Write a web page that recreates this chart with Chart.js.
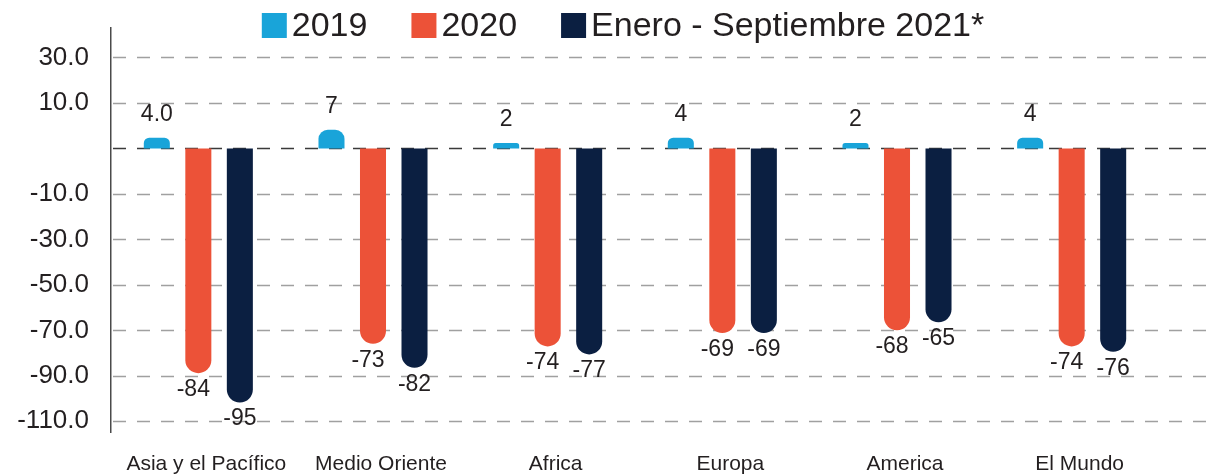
<!DOCTYPE html>
<html>
<head>
<meta charset="utf-8">
<script src="https://cdn.jsdelivr.net/npm/chart.js@4.4.0/dist/chart.umd.min.js"></script>
<style>
  html, body { margin: 0; padding: 0; background: #fff; overflow: hidden; }
  #wrap { position: relative; width: 1209px; height: 476px; }
</style>
</head>
<body>
<div id="wrap"><canvas id="chart"></canvas></div>
<script>
// Datos
const categories = ['Asia y el Pacífico', 'Medio Oriente', 'Africa', 'Europa', 'America', 'El Mundo'];
const seriesNames = ['2019', '2020', 'Enero - Septiembre 2021*'];
const values2019 = [4, 7, 2, 4, 2, 4];
const values2020 = [-84, -73, -74, -69, -68, -74];
const values2021 = [-95, -82, -77, -69, -65, -76];
const yTickLabels = ['30.0', '10.0', '', '-10.0', '-30.0', '-50.0', '-70.0', '-90.0', '-110.0'];

const yStep = 17;           // distancia entre lineas de la grilla
const TEXT = '#231f20';
const FONT = '"Liberation Sans", Arial, Helvetica, sans-serif';
const colors = ['#19a4d9', '#ec5238', '#0b1f41'];

function fmtValue(v, dsIndex, i) {
    // el primer rotulo del original lleva un decimal
    return (dsIndex === 0 && i === 0) ? v.toFixed(1) : String(v);
}

// Lineas punteadas de la grilla (llegan hasta el borde derecho)
const gridPlugin = {
    id: 'dashGrid',
    beforeDatasetsDraw(chart) {
        const { ctx, chartArea, scales: { y } } = chart;
        ctx.save();
        ctx.lineWidth = 1.5;
        ctx.setLineDash([13, 11]);
        y.ticks.forEach(t => {
            const py = Math.round(y.getPixelForValue(t.value)) + 0.5;
            ctx.strokeStyle = t.value === 0 ? '#3a3a3a' : '#a0a0a0';
            ctx.beginPath();
            ctx.moveTo(chartArea.left + 2, py);
            ctx.lineTo(chart.width, py);
            ctx.stroke();
        });
        ctx.restore();
    }
};

// Rotulos de valores en cada barra
const valuePlugin = {
    id: 'valueLabels',
    afterDatasetsDraw(chart) {
        const ctx = chart.ctx;
        ctx.save();
        ctx.font = '23px ' + FONT;
        ctx.fillStyle = TEXT;
        ctx.textAlign = 'center';
        chart.data.datasets.forEach((ds, di) => {
            const meta = chart.getDatasetMeta(di);
            const dx = di === 1 ? -5 : 0;
            meta.data.forEach((bar, i) => {
                const v = ds.data[i];
                if (v >= 0) {
                    ctx.textBaseline = 'bottom';
                    ctx.fillText(fmtValue(v, di, i), bar.x + dx, bar.y - 12);
                } else {
                    ctx.textBaseline = 'top';
                    ctx.fillText(fmtValue(v, di, i), bar.x + dx, bar.y + 5);
                }
            });
        });
        ctx.restore();
    }
};

// Leyenda arriba, cuadrados + texto
const legendPlugin = {
    id: 'topLegend',
    afterDraw(chart) {
        const ctx = chart.ctx;
        const box = 25, gapText = 5, gapItem = 44, top = 13;
        ctx.save();
        ctx.font = '34px ' + FONT;
        ctx.textBaseline = 'middle';
        ctx.textAlign = 'left';
        const dsets = chart.data.datasets;
        const widths = dsets.map(ds => box + gapText + ctx.measureText(ds.label).width);
        const total = widths.reduce((a, b) => a + b, 0) + gapItem * (widths.length - 1);
        let x = 623 - total / 2;
        dsets.forEach((ds, i) => {
            ctx.fillStyle = ds.backgroundColor;
            ctx.fillRect(x, top, box, box);
            ctx.fillStyle = TEXT;
            ctx.fillText(ds.label, x + box + gapText, top + box / 2 + 1);
            x += widths[i] + gapItem;
        });
        ctx.restore();
    }
};

const seriesValues = [values2019, values2020, values2021];
const datasets = seriesNames.map((name, i) => ({
    label: name,
    data: seriesValues[i],
    backgroundColor: colors[i],
    borderRadius: 13,
    borderSkipped: 'start',
    categoryPercentage: 0.713,
    barPercentage: 0.627
}));

new Chart(document.getElementById('chart'), {
    type: 'bar',
    data: { labels: categories, datasets },
    options: {
        responsive: true,
        maintainAspectRatio: false,
        animation: false,
        layout: { padding: { top: 28, right: 50, left: 0, bottom: 0 } },
        plugins: {
            legend: { display: false },
            tooltip: { enabled: false }
        },
        scales: {
            x: {
                grid: { display: false, drawTicks: false },
                border: { display: false },
                afterFit: scale => { scale.height = 44; scale.paddingLeft = 0; scale.paddingRight = 0; },
                ticks: {
                    color: TEXT,
                    font: { family: FONT, size: 21 },
                    padding: 20,
                    labelOffset: 8,
                    autoSkip: false,
                    maxRotation: 0
                }
            },
            y: {
                min: -106,
                max: 45,
                afterBuildTicks: scale => {
                    scale.ticks = yTickLabels.map((_, i) => ({ value: (2 - i) * yStep }));
                },
                afterFit: scale => { scale.width = 111; scale.paddingTop = 0; scale.paddingBottom = 0; },
                grid: { display: false, drawTicks: false },
                border: { display: true, color: '#4a4a4a', width: 1.5 },
                ticks: {
                    color: TEXT,
                    font: { family: FONT, size: 26 },
                    padding: 22,
                    callback: (v, i) => yTickLabels[i]
                }
            }
        }
    },
    plugins: [gridPlugin, valuePlugin, legendPlugin]
});
</script>
</body>
</html>
